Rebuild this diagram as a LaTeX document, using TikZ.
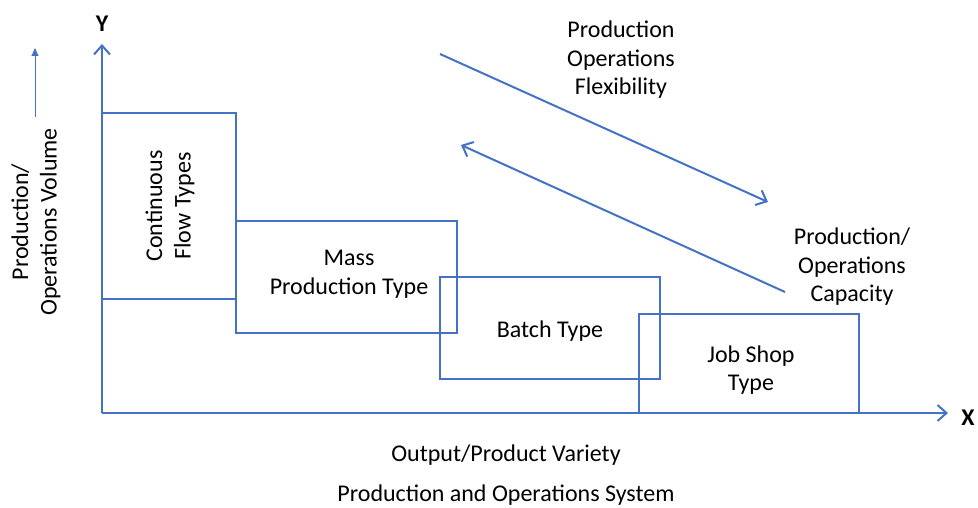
\documentclass[tikz,border=0pt]{standalone}
\usepackage{fontspec}
\setmainfont{Carlito}
\usetikzlibrary{arrows.meta}
\definecolor{lblue}{HTML}{4472C4}
\tikzset{
  box/.style={draw=lblue, line width=1.3pt, inner sep=0pt, outer sep=0pt, align=center},
  lbl/.style={align=center, inner sep=0pt, font=\fontsize{24}{28.5}\selectfont},
  axlbl/.style={inner sep=0pt, font=\fontsize{24}{28}\selectfont\bfseries},
  axis/.style={draw=lblue, line width=2pt, -{Straight Barb[length=9pt,width=16pt,line width=2pt]}},
  trend/.style={draw=lblue, line width=2pt, -{Straight Barb[length=9pt,width=16pt,line width=2pt]}},
}
\begin{document}
\begin{tikzpicture}[x=1pt,y=-1pt]
\useasboundingbox (0,0) rectangle (978,508);
% axes
\coordinate (O) at (102,413);
\coordinate (Ytip) at (102,44);
\coordinate (Xtip) at (948,413);
\draw[axis] (O) -- (Ytip);
\draw[axis] (O) -- (Xtip);
\node[axlbl] (Ylab) at (102,24) {Y};
\node[axlbl] (Xlab) at (968,418) {X};
% side label
\coordinate (va) at (35,117);
\coordinate (vb) at (35,48);
\draw[draw=lblue, line width=1pt, -{Triangle[length=8pt,width=7pt]}] (va) -- (vb);
\node[lbl, rotate=90] (vol) at (36,222) {Production/\\Operations Volume};
% boxes
\node[box, minimum width=134pt, minimum height=186pt] (cont) at (169,206) {};
\node[lbl, rotate=90] at (170,206) {Continuous\\Flow Types};
\node[box, minimum width=221pt, minimum height=112pt] (mass) at (346.5,277) {};
\node[lbl] at (349,274) {Mass\\Production Type};
\node[box, minimum width=220pt, minimum height=102pt] (batch) at (550,328) {};
\node[lbl] at (550,331) {Batch Type};
\node[box, minimum width=220pt, minimum height=99pt] (job) at (749,363.5) {};
\node[lbl] at (751,370) {Job Shop\\Type};
% trend arrows
\coordinate (fa) at (440,54);
\coordinate (fb) at (768,202);
\draw[trend] (fa) -- (fb);
\node[lbl] (flex) at (621,60) {Production\\Operations\\Flexibility};
\coordinate (ca) at (785,292);
\coordinate (cb) at (461,145);
\draw[trend] (ca) -- (cb);
\node[lbl] (cap) at (852,267) {Production/\\Operations\\Capacity};
% bottom labels
\node[lbl] (var) at (506,455) {Output/Product Variety};
\node[lbl] (sys) at (506,495) {Production and Operations System};
\end{tikzpicture}
\end{document}
